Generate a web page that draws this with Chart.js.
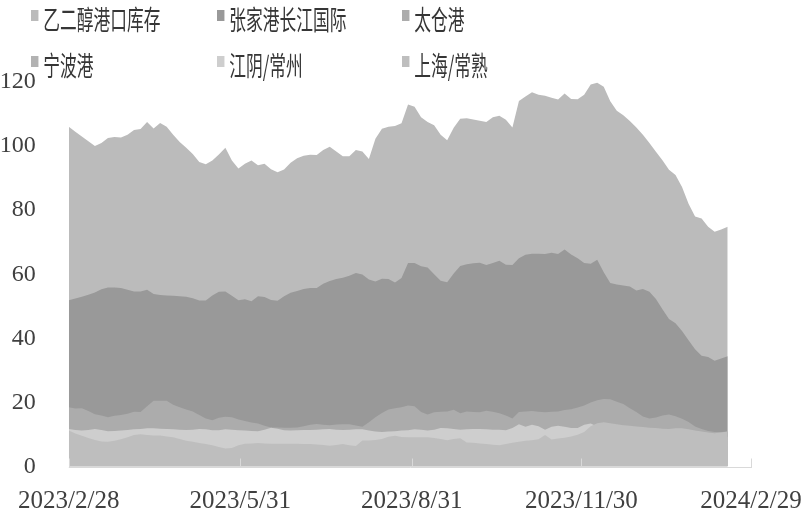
<!DOCTYPE html>
<html>
<head>
<meta charset="UTF-8">
<title>乙二醇港口库存</title>
<script src="https://cdn.jsdelivr.net/npm/chart.js@4.4.1/dist/chart.umd.min.js"></script>
<style>
  html, body { margin: 0; padding: 0; background: #fff; }
  #wrap { position: relative; width: 809px; height: 518px; overflow: hidden; }
  #chart { position: absolute; left: 0; top: 0; }
  .legend-item { position: absolute; height: 27px; line-height: 27px; white-space: nowrap;
    font: 27px 'Noto Sans CJK SC', sans-serif; color: #363636;
    transform: scaleX(0.62); transform-origin: 0 0; }
  .legend-item i { display: inline-block; width: 11.9px; height: 11px; vertical-align: top; margin: 3px 8px 0 0; }
  .legend-item span { position: relative; top: -8px; }
</style>
</head>
<body>
<div id="wrap">
  <canvas id="chart" width="809" height="518"></canvas>
  <div id="legend"></div>
</div>
<script>
// sampled twice a week (Mon/Thu), ~3.5 days apart, from 2023/2/28
const STEP_DAYS = 3.5;

const seriesNames = ['乙二醇港口库存', '张家港长江国际', '太仓港', '宁波港', '江阴/常州', '上海/常熟'];
const seriesColors = ['#bbbbbb', '#999999', '#acacac', '#b2b2b2', '#cecece', '#bebebe'];

const tickDays = [0, 92, 184, 275, 366];
const tickLabels = ['2023/2/28', '2023/5/31', '2023/8/31', '2023/11/30', '2024/2/29'];

const total = [
  106, 104.5, 103, 101.5, 100, 101, 102.5, 102.8, 102.7, 103.5,
  105, 105.3, 107.5, 105.5, 107.2, 106, 103.5, 101.3, 99.5, 97.5,
  95, 94.3, 95.5, 97.4, 99.5, 95.5, 93, 94.5, 95.5, 94,
  94.5, 92.8, 91.8, 92.7, 94.8, 96.2, 97, 97.3, 97.2, 98.8,
  99.8, 98.3, 96.8, 96.8, 98.8, 98.3, 96, 102.3, 105.4, 106,
  106.3, 107.1, 113, 112.3, 109, 107.5, 106.5, 103.5, 101.8, 105.7,
  108.5, 108.7, 108.3, 107.9, 107.5, 109, 109.5, 108.2, 105.8, 114.1,
  115.5, 116.8, 116, 115.7, 115.1, 114.5, 116.4, 114.7, 114.6, 116,
  119.2, 119.8, 118.5, 114, 111, 109.6, 107.8, 105.8, 103.5, 101,
  98.2, 95.6, 92.6, 91, 87.2, 82, 78, 77.4, 74.8, 73.3,
  74, 74.8
];
const zhangjiagang = [
  51.9, 52.4, 53, 53.6, 54.3, 55.3, 55.9, 55.9, 55.7, 55.2,
  54.6, 54.6, 55.2, 53.8, 53.5, 53.4, 53.3, 53.1, 53, 52.5,
  51.8, 51.8, 53.4, 54.5, 54.6, 53.3, 51.9, 52.2, 51.6, 53.1,
  52.9, 52, 51.7, 53.1, 54.2, 54.8, 55.4, 55.7, 55.7, 57,
  57.9, 58.5, 58.9, 59.5, 60.4, 59.9, 58.4, 57.7, 58.6, 58.5,
  57.4, 58.8, 63.5, 63.5, 62.5, 62.1, 60, 58, 57.5, 60.2,
  62.6, 63.1, 63.4, 63.6, 62.9, 63.5, 64.2, 63, 62.9, 65,
  66.1, 66.4, 66.4, 66.3, 66.7, 66.3, 67.7, 66.2, 65, 63.5,
  63.3, 64.5, 60.6, 57.3, 56.8, 56.5, 56.2, 54.9, 55.4, 54.5,
  52.3, 49.1, 46, 44.7, 42.3, 39.4, 36.6, 34.6, 34.2, 33,
  33.7, 34.4
];
const taicang = [
  18.5, 18.1, 18.2, 17.3, 16.3, 15.9, 15.4, 15.8, 16.1, 16.5,
  17.1, 17, 18.8, 20.5, 20.5, 20.5, 19.3, 18.5, 17.8, 17.2,
  16.1, 15, 14.4, 15.2, 15.5, 15.4, 14.7, 14.2, 13.7, 13.4,
  12.7, 12.2, 12.2, 12.1, 12.1, 12.2, 12.6, 13, 13.3, 13,
  12.9, 13.1, 13.2, 13.2, 12.8, 12.4, 13.8, 15.4, 16.7, 17.8,
  18.2, 18.5, 19, 18.8, 17, 16.2, 16.9, 17.1, 17.2, 17.7,
  16.6, 17.2, 17, 16.9, 17.4, 17.1, 16.6, 15.9, 15, 17,
  17.2, 17.3, 17.1, 16.9, 17.1, 17.2, 17.6, 17.9, 18.4, 19,
  20, 20.7, 21.1, 21, 20.2, 19.5, 18.2, 17, 15.6, 15,
  15.3, 15.9, 16.2, 15.7, 14.9, 13.9, 12.5, 11.7, 11.1, 10.8,
  10.8, 10.9
];
const ningbo = [
  10, 9.8, 9.5, 9.3, 9, 8.8, 8.7, 8.9, 9.1, 9.2,
  9.4, 9.6, 9.8, 10, 10.1, 10, 9.7, 9.4, 9.1, 8.9,
  8.6, 8.3, 8, 7.8, 7.6, 7.5, 7.6, 7.8, 8, 8.1,
  8.2, 8.3, 8.2, 8.1, 8, 8.1, 8.2, 8.4, 8.5, 8.6,
  8.7, 8.8, 8.9, 9, 9.1, 9.2, 9.3, 9.5, 9.6, 9.8,
  9.9, 10, 10.1, 10.2, 10.1, 9.9, 9.7, 9.6, 9.5, 9.4,
  9.3, 9.2, 9, 8.8, 8.7, 8.6, 8.5, 8.4, 8.3, 8.4,
  8.6, 8.8, 9, 9.2, 9.3, 9.4, 9.6, 9.8, 9.9, 10,
  10.1, 10.2, 10.2, 10.1, 10, 9.8, 9.7, 9.6, 9.4, 9.3,
  9.1, 9, 8.8, 8.6, 8.4, 8.2, 8, 7.9, 7.8, 7.7,
  7.6, 7.6
];
const jiangyin = [
  11.7, 11.4, 11.2, 11.4, 11.7, 11.4, 11, 11.1, 11.2, 11.4,
  11.6, 11.7, 11.9, 11.9, 11.8, 11.7, 11.6, 11.5, 11.4, 11.5,
  11.7, 11.6, 11.3, 11.3, 11.6, 11.5, 11.3, 11.2, 11.1, 11,
  11.5, 12.1, 11.8, 11.3, 11.2, 11.3, 11.4, 11.4, 11.5, 11.6,
  11.7, 11.5, 11.4, 11.5, 11.6, 11.6, 11.2, 10.9, 10.8, 10.9,
  11, 11.2, 11.3, 11.6, 11.5, 11.2, 11.5, 12, 11.9, 11.7,
  11.5, 11.6, 11.7, 11.7, 11.6, 11.5, 11.5, 11.3, 12, 13.2,
  12.4, 13, 12.6, 11.5, 12.4, 12.7, 12.4, 12, 12, 13,
  13.4, 12.5, 11.5, 11.8, 11.5, 11.2, 11, 10.8, 10.5, 10.5,
  10.3, 10.2, 10, 10, 9.8, 9.6, 9.5, 9.4, 9.3, 9.2,
  9.2, 9.3
];
const shanghai = [
  11.2, 10.3, 9.6, 8.9, 8.3, 7.8, 7.7, 8, 8.5, 9.1,
  9.8, 10.1, 9.8, 9.7, 9.7, 9.4, 9.1, 8.6, 8, 7.7,
  7.3, 7, 6.6, 6.1, 5.6, 5.8, 6.6, 7.1, 7.2, 7.3,
  7.2, 7.1, 7.1, 7.1, 7.1, 7.1, 7, 7, 6.9, 6.7,
  6.5, 6.7, 7, 6.6, 6.4, 8.1, 8.1, 8.3, 8.6, 9.3,
  9.6, 9.2, 9.1, 9.1, 9.1, 9.1, 8.9, 8.6, 8.2, 8.6,
  8.8, 7.5, 7.4, 7.2, 7, 6.8, 6.6, 7, 7.4, 7.7,
  8, 8.2, 8.5, 9.8, 8.4, 8.7, 9, 9.4, 9.9, 10.8,
  12.6, 13.5, 13.8, 13.5, 13.2, 12.9, 12.7, 12.5, 12.3, 12.1,
  12, 11.8, 11.7, 11.9, 11.9, 11.6, 11.2, 10.9, 10.6, 10.4,
  10.6, 10.9
];

const seriesValues = [total, zhangjiagang, taicang, ningbo, jiangyin, shanghai];

const TEXT_COLOR = '#404040';
const SERIF = "'Liberation Serif', 'Times New Roman', serif";

// areas overlap from zero; the total sits at the back, 上海/常熟 in front
const datasets = seriesNames.map((name, k) => ({
  label: name,
  data: seriesValues[k].map((v, i) => ({ x: i * STEP_DAYS, y: v })),
  backgroundColor: seriesColors[k],
  borderColor: 'rgba(0,0,0,0)',
  borderWidth: 0,
  fill: 'origin',
  order: seriesNames.length - k,
}));

// inward tick marks and the light x axis line
const axisTicks = {
  id: 'axisTicks',
  afterDatasetsDraw(chart) {
    const { ctx, chartArea, scales: { x } } = chart;
    const yb = Math.round(chartArea.bottom) + 0.5;
    ctx.save();
    ctx.strokeStyle = '#d9d9d9';
    ctx.lineWidth = 1;
    ctx.beginPath();
    ctx.moveTo(chartArea.left, yb);
    ctx.lineTo(chartArea.right + 1, yb);
    x.ticks.forEach(t => {
      const px = Math.round(x.getPixelForValue(t.value)) + 0.5;
      ctx.moveTo(px, yb);
      ctx.lineTo(px, yb - 9);
    });
    ctx.stroke();
    ctx.restore();
  }
};

new Chart(document.getElementById('chart'), {
  type: 'line',
  data: { datasets },
  options: {
    responsive: false,
    animation: false,
    devicePixelRatio: 1,
    layout: { padding: { top: 82, right: 58, bottom: 0, left: 0 } },
    plugins: { legend: { display: false }, tooltip: { enabled: false } },
    elements: { point: { radius: 0 }, line: { tension: 0 } },
    scales: {
      x: {
        type: 'linear',
        min: 0,
        max: 366,
        grid: { display: false },
        border: { display: false },
        afterBuildTicks: s => { s.ticks = tickDays.map(v => ({ value: v })); },
        afterFit: s => { s.height = 51.5; s.paddingLeft = 0; s.paddingRight = 0; },
        ticks: {
          autoSkip: false, maxRotation: 0, padding: 12,
          color: TEXT_COLOR, font: { family: SERIF, size: 25 },
          callback: (v, i) => tickLabels[i],
        },
      },
      y: {
        min: 0,
        max: 120,
        grid: { display: false },
        border: { display: false },
        afterFit: s => { s.width = 68.8; },
        ticks: { stepSize: 20, padding: 25, color: TEXT_COLOR, font: { family: SERIF, size: 24 } },
      },
    },
  },
  plugins: [axisTicks],
});

// legend: two rows of three, text squeezed horizontally like the source
const legendCols = [31, 216.7, 402];
const legendRows = [7, 53];
const legend = document.getElementById('legend');
seriesNames.forEach((name, k) => {
  const item = document.createElement('div');
  item.className = 'legend-item';
  item.style.left = legendCols[k % 3] + 'px';
  item.style.top = legendRows[Math.floor(k / 3)] + 'px';
  item.innerHTML = `<i style="background:${seriesColors[k]}"></i><span>${name}</span>`;
  legend.appendChild(item);
});
</script>
</body>
</html>
